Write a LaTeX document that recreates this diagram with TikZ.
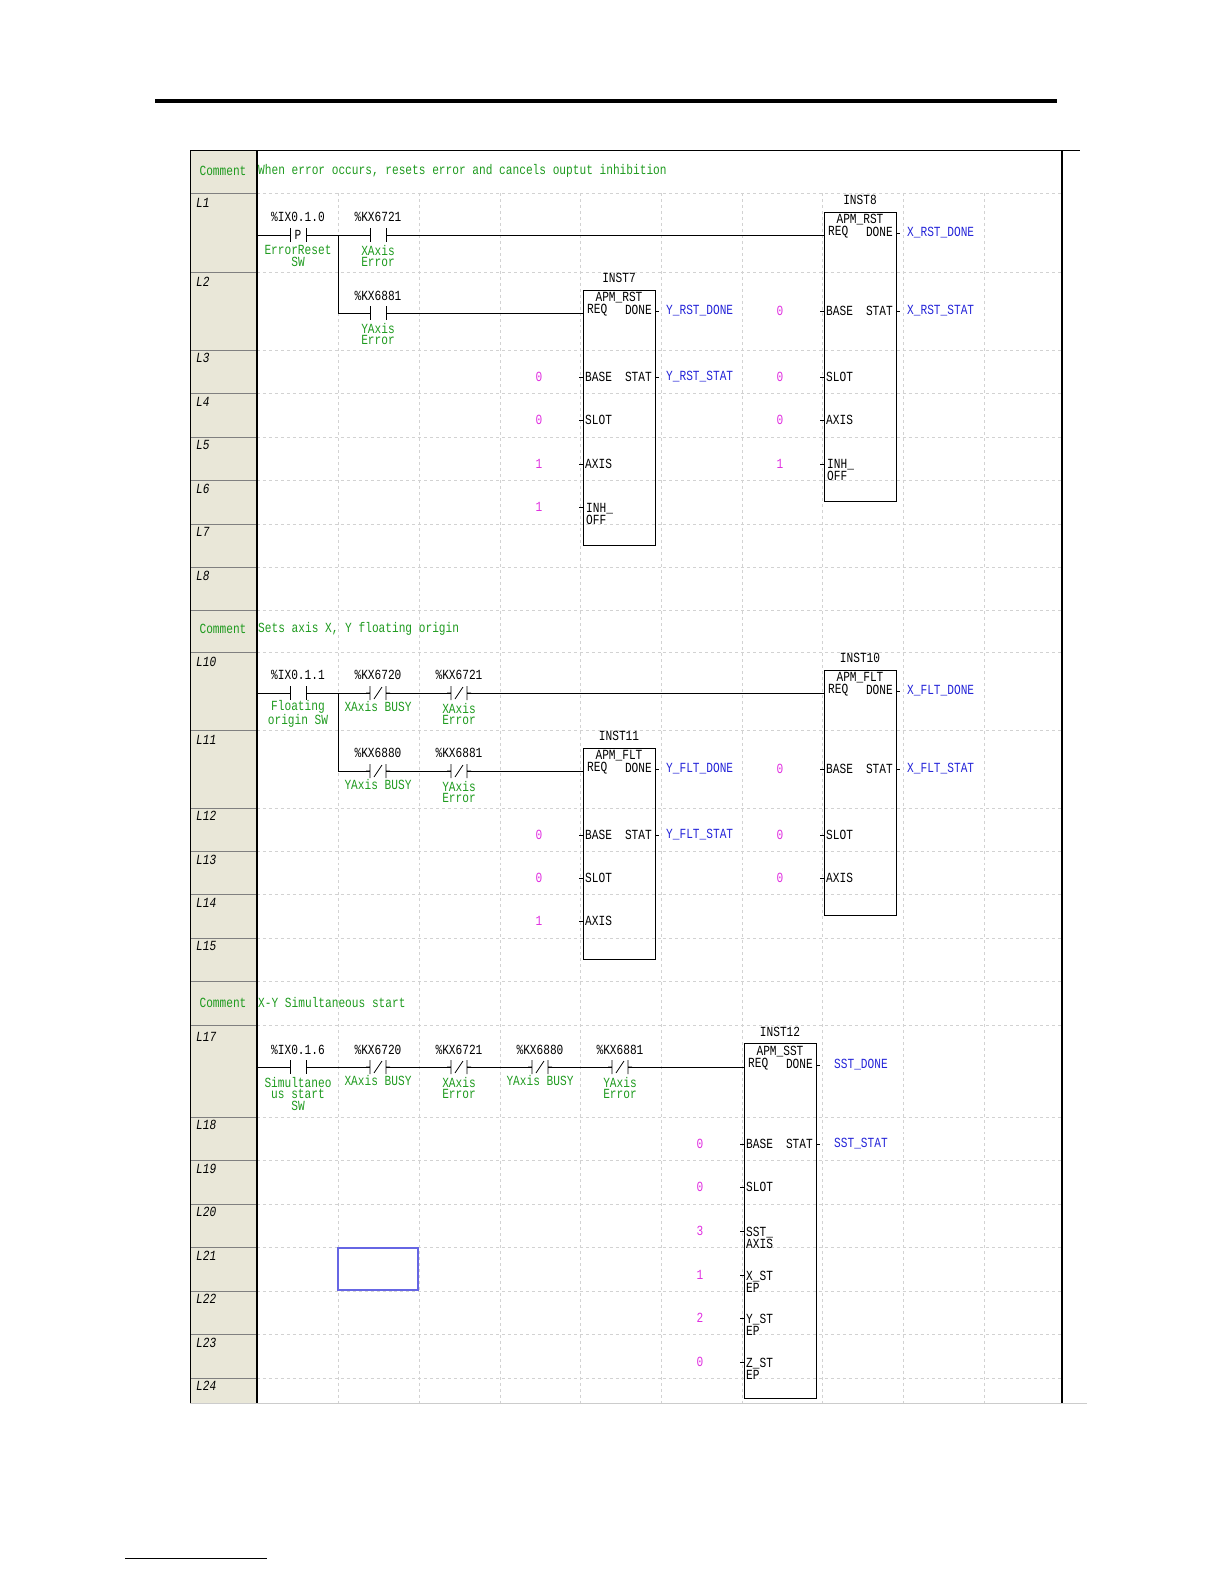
\documentclass[tikz,border=0pt]{standalone}
\usepackage{fontspec}
\setmainfont[FakeStretch=0.8]{Liberation Mono}
\begin{document}
\begin{tikzpicture}[x=1bp,y=-1bp,
  t/.style={inner sep=0pt,font=\fontsize{14}{12}\selectfont},
  gr/.style={t,text=cgreen,align=center},
  bl/.style={t,text=cblue,anchor=west},
  mg/.style={t,text=cmag},
  rl/.style={t,font=\fontsize{14}{12}\selectfont\itshape,anchor=west},
  fbox/.style={draw,line width=0.8pt},
  grid/.style={draw=gray!35,dashed,line width=0.4pt},
  rung/.style={line width=0.8pt},
  pics/noc/.style={code={\fill[white](-8,-7)rectangle(8,7);\draw[line width=0.8pt](-8,-7)--(-8,7)(8,-7)--(8,7)(-12,0)--(-8,0)(8,0)--(12,0);}},
  pics/ncc/.style={code={\fill[white](-8,-7)rectangle(8,7);\draw[line width=0.8pt](-8,-7)--(-8,7)(8,-7)--(8,7)(-4,6)--(4,-6)(-12,0)--(-8,0)(8,0)--(12,0);}},
  pics/pc/.style={code={\fill[white](-8,-7)rectangle(8,7);\draw[line width=0.8pt](-8,-7)--(-8,7)(8,-7)--(8,7)(-12,0)--(-8,0)(8,0)--(12,0);\node[t] at (0,0){P};}}
]
\definecolor{cgreen}{HTML}{1E9A1E}
\definecolor{cblue}{HTML}{2424D8}
\definecolor{cmag}{HTML}{E030E0}
\definecolor{gut}{HTML}{E9E7D8}
\useasboundingbox (0,0) rectangle (1224,1584);
% page rules
\draw[line width=5pt] (155,101)--(1057,101);
\draw[line width=0.6pt] (125,1558)--(267,1558);
% gutter
\fill[gut] (190,150) rectangle (257,1403);
% grid
\foreach \x in {338,419,500,580,661,742,822,903,984}{\draw[grid] (\x,193)--(\x,1403);}
\foreach \y in {193,272,350,393,437,480,524,567,610,652,730,808,851,894,938,981,1025,1117,1160,1204,1247,1291,1334,1378}{
  \draw[grid] (257,\y)--(1062,\y); \draw[line width=0.6pt,gray] (190,\y)--(257,\y);}
\draw[line width=0.8pt] (190,150)--(1080,150);
\draw[gray!40] (190,1403)--(1087,1403);
\draw[line width=0.8pt] (190,150)--(190,1403);
\draw[line width=1.6pt] (257,150)--(257,1403);
\draw[line width=1.6pt] (1062,150)--(1062,1403);
% row labels
\foreach \y/\l in {203/L1,282/L2,358/L3,402/L4,445/L5,489/L6,532/L7,576/L8,662/L10,740/L11,816/L12,860/L13,903/L14,946/L15,1037/L17,1125/L18,1169/L19,1212/L20,1256/L21,1299/L22,1343/L23,1386/L24}{\node[rl] at (196,\y){\l};}
\foreach \y in {171,629,1003}{\node[t,text=cgreen] at (223,\y){Comment};}
\node[t,text=cgreen,anchor=west] at (258,171){When error occurs, resets error and cancels ouptut inhibition};
\node[t,text=cgreen,anchor=west] at (258,629){Sets axis X, Y floating origin};
\node[t,text=cgreen,anchor=west] at (258,1003){X-Y Simultaneous start};

% ===== Section 1 =====
\coordinate (r1s) at (257,235);
\coordinate (b1) at (338,235);
\coordinate (b1d) at (338,313);
\node[fbox,minimum width=72bp,minimum height=289bp,inner sep=0,anchor=north west] (inst8) at (824,212) {};
\node[fbox,minimum width=72bp,minimum height=255bp,inner sep=0,anchor=north west] (inst7) at (583,290) {};
\draw[rung] (r1s)--(inst8.west |- r1s);
\draw[rung] (b1)--(b1d)--(inst7.west |- b1d);
\pic at (298,235){pc};\pic at (378,235){noc};\pic at (378,313){noc};
\node[t] at (298,217){\%IX0.1.0};\node[gr] at (298,256){ErrorReset\\SW};
\node[t] at (378,217){\%KX6721};\node[gr] at (378,256){XAxis\\ Error};
\node[t] at (378,296){\%KX6881};\node[gr] at (378,334){YAxis\\ Error};
% INST7
\node[t] at (619,278){INST7};
\node[t] at (619,298){APM\_RST};
\node[t,anchor=west] at (587,310){REQ};\node[t,anchor=east] at (652,310){DONE};
\foreach \y/\l in {377/BASE,420/SLOT,464/AXIS}{\node[t,anchor=west] at (585,\y){\l};\draw (579,\y)--(583,\y);}
\node[t,anchor=west,align=left] at (586,514){INH\_\\OFF};\draw (579,507)--(583,507);
\node[t,anchor=east] at (652,377){STAT};
\draw (655,311)--(659,311);\draw (655,377)--(659,377);
\node[bl] at (666,311){Y\_RST\_DONE};\node[bl] at (666,377){Y\_RST\_STAT};
\foreach \y/\v in {377/0,420/0,464/1,507/1}{\node[mg] at (539,\y){\v};}
% INST8
\node[t] at (860,200){INST8};
\node[t] at (860,220){APM\_RST};
\node[t,anchor=west] at (828,232){REQ};\node[t,anchor=east] at (893,232){DONE};
\foreach \y/\l in {311/BASE,377/SLOT,420/AXIS}{\node[t,anchor=west] at (826,\y){\l};\draw (820,\y)--(824,\y);}
\node[t,anchor=west,align=left] at (827,470){INH\_\\OFF};\draw (820,464)--(824,464);
\node[t,anchor=east] at (893,311){STAT};
\draw (896,233)--(900,233);\draw (896,311)--(900,311);
\node[bl] at (907,233){X\_RST\_DONE};\node[bl] at (907,311){X\_RST\_STAT};
\foreach \y/\v in {311/0,377/0,420/0,464/1}{\node[mg] at (780,\y){\v};}

% ===== Section 2 =====
\coordinate (r2s) at (257,693);
\coordinate (b2) at (338,693);
\coordinate (b2d) at (338,771);
\node[fbox,minimum width=72bp,minimum height=245bp,inner sep=0,anchor=north west] (inst10) at (824,670) {};
\node[fbox,minimum width=72bp,minimum height=211bp,inner sep=0,anchor=north west] (inst11) at (583,748) {};
\draw[rung] (r2s)--(inst10.west |- r2s);
\draw[rung] (b2)--(b2d)--(inst11.west |- b2d);
\pic at (298,693){noc};\pic at (378,693){ncc};\pic at (459,693){ncc};
\pic at (378,771){ncc};\pic at (459,771){ncc};
\node[t] at (298,675){\%IX0.1.1};\node[gr] at (298,714){Floating\\origin SW};
\node[t] at (378,675){\%KX6720};\node[gr] at (378,707){XAxis BUSY};
\node[t] at (459,675){\%KX6721};\node[gr] at (459,714){XAxis\\ Error};
\node[t] at (378,753){\%KX6880};\node[gr] at (378,785){YAxis BUSY};
\node[t] at (459,753){\%KX6881};\node[gr] at (459,792){YAxis\\ Error};
% INST11
\node[t] at (619,736){INST11};
\node[t] at (619,756){APM\_FLT};
\node[t,anchor=west] at (587,768){REQ};\node[t,anchor=east] at (652,768){DONE};
\foreach \y/\l in {835/BASE,878/SLOT,921/AXIS}{\node[t,anchor=west] at (585,\y){\l};\draw (579,\y)--(583,\y);}
\node[t,anchor=east] at (652,835){STAT};
\draw (655,769)--(659,769);\draw (655,835)--(659,835);
\node[bl] at (666,769){Y\_FLT\_DONE};\node[bl] at (666,835){Y\_FLT\_STAT};
\foreach \y/\v in {835/0,878/0,921/1}{\node[mg] at (539,\y){\v};}
% INST10
\node[t] at (860,658){INST10};
\node[t] at (860,678){APM\_FLT};
\node[t,anchor=west] at (828,690){REQ};\node[t,anchor=east] at (893,690){DONE};
\foreach \y/\l in {769/BASE,835/SLOT,878/AXIS}{\node[t,anchor=west] at (826,\y){\l};\draw (820,\y)--(824,\y);}
\node[t,anchor=east] at (893,769){STAT};
\draw (896,691)--(900,691);\draw (896,769)--(900,769);
\node[bl] at (907,691){X\_FLT\_DONE};\node[bl] at (907,769){X\_FLT\_STAT};
\foreach \y/\v in {769/0,835/0,878/0}{\node[mg] at (780,\y){\v};}

% ===== Section 3 =====
\coordinate (r3s) at (257,1067);
\node[fbox,minimum width=72bp,minimum height=355bp,inner sep=0,anchor=north west] (inst12) at (744,1043) {};
\draw[rung] (r3s)--(inst12.west |- r3s);
\pic at (298,1067){noc};\pic at (378,1067){ncc};\pic at (459,1067){ncc};\pic at (540,1067){ncc};\pic at (620,1067){ncc};
\node[t] at (298,1050){\%IX0.1.6};\node[gr] at (298,1094){Simultaneo\\us start\\SW};
\node[t] at (378,1050){\%KX6720};\node[gr] at (378,1081){XAxis BUSY};
\node[t] at (459,1050){\%KX6721};\node[gr] at (459,1088){XAxis\\ Error};
\node[t] at (540,1050){\%KX6880};\node[gr] at (540,1081){YAxis BUSY};
\node[t] at (620,1050){\%KX6881};\node[gr] at (620,1088){YAxis\\ Error};
\node[t] at (780,1032){INST12};
\node[t] at (780,1052){APM\_SST};
\node[t,anchor=west] at (748,1064){REQ};\node[t,anchor=east] at (813,1064){DONE};
\foreach \y/\l in {1144/BASE,1187/SLOT}{\node[t,anchor=west] at (746,\y){\l};\draw (740,\y)--(744,\y);}
\node[t,anchor=west,align=left] at (746,1238){SST\_\\AXIS};\draw (740,1231)--(744,1231);
\foreach \y/\l in {1275/X,1318/Y,1362/Z}{\node[t,anchor=west,align=left] at (746,\y+7){\l\_ST\\ EP};\draw (740,\y)--(744,\y);}
\node[t,anchor=east] at (813,1144){STAT};
\draw (816,1065)--(820,1065);\draw (816,1144)--(820,1144);
\node[bl] at (834,1065){SST\_DONE};\node[bl] at (834,1144){SST\_STAT};
\foreach \y/\v in {1144/0,1187/0,1231/3,1275/1,1318/2,1362/0}{\node[mg] at (700,\y){\v};}
\draw[draw=cblue!70,line width=1.5pt] (338,1248) rectangle (418,1290);
\end{tikzpicture}
\end{document}
